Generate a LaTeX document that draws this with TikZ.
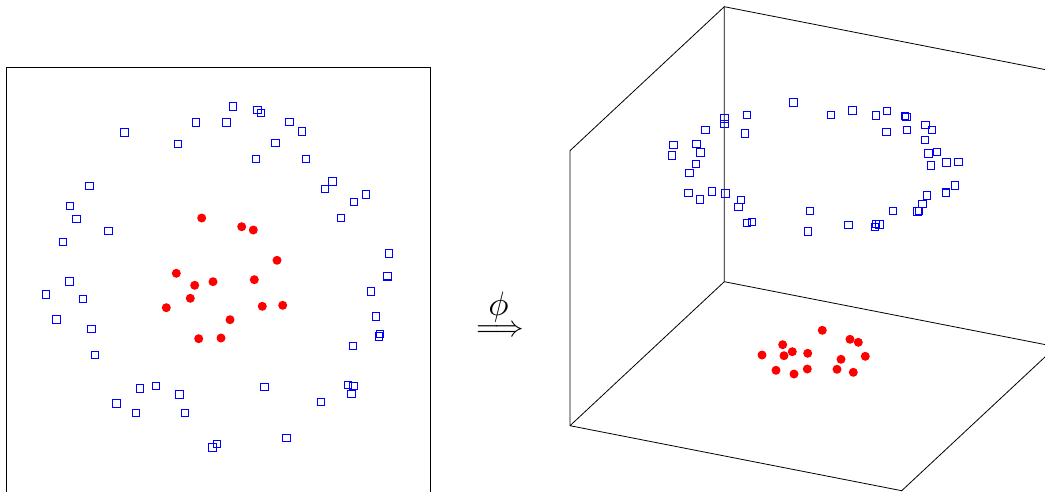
\documentclass[tikz,border=0pt]{standalone}
\begin{document}
\begin{tikzpicture}[x=1pt,y=-1pt,
  sq/.style={draw=blue,line width=0.75pt,minimum size=7.6pt,inner sep=0pt,outer sep=0pt},
  dot/.style={circle,fill=red,draw=none,minimum size=9pt,inner sep=0pt},
  frame/.style={draw=black,line width=0.8pt},
  sym/.style={inner sep=0pt,outer sep=0pt}]
\useasboundingbox (0,0) rectangle (1045,491);
\clip (0,0) rectangle (1045,491);
% left panel frame
\draw[frame] (6.3,495) -- (6.3,67.3) -- (430.7,67.3) -- (430.7,495);
% left squares
\foreach [count=\i] \x/\y in {233/106.3,257.3/109.7,260.7/112.7,195.7/122.3,226.3/122.3,289.3/122,301.7/131.3,124.3/132.3,178/143.7,275.3/143,256/158.7,305.7/159,332.3/181.3,324.7/189,365.7/194.3,354/201.7,340.7/217.7,89.3/185.7,70/205.7,76.3/218.7,108.3/230.7,63/241.7,389/253.3,387.3/275.7,387.6/276.2,69.3/281.3,46/294.3,83/298.7,370.7/291.3,376/316.3,56.3/319.3,91.3/329,380/333.7,378.7/336.3,95/355,352.7/346,140/388.3,156/386,179.3/394.3,264.3/387,348/385,353.3/386,351.3/393.7,116.3/403.3,136/413,184.7/413,321/402,286.3/438,216.7/443.7,212.3/447.3}
  \node[sq] (ls\i) at (\x,\y) {};
% left dots
\foreach [count=\i] \x/\y in {201.7/218,241.7/226.7,253.3/230,277/260.3,176.3/273.3,194.7/285.3,213/281.7,254.3/279.7,190.3/298.3,166.3/307.7,262.3/306.3,282.7/305.3,230/319.7,198.7/338.7,221/338}
  \node[dot] (ld\i) at (\x,\y) {};
% mapping arrow
\node[sym] (phi) at (498.5,306.5) {\scalebox{3.4}{$\phi$}};
\node[sym] (map) at (500,331.5) {\scalebox{2.95}{$\Longrightarrow$}};
% 3D box
\coordinate (At) at (724.3,6.7);
\coordinate (Ab) at (724.3,281.7);
\coordinate (Bt) at (570,150.7);
\coordinate (Bb) at (570,425.7);
\coordinate (Ct) at (1056,71.7);
\coordinate (Cb) at (1056,346.7);
\coordinate (Db) at (901.7,490.7);
\draw[frame] (Ab) -- (At) -- (Bt) -- (Bb);
\draw[frame] (At) -- (Ct) -- (Cb);
\draw[frame] (Bb) -- (Ab) -- (Cb) -- (Db) -- (Bb);
% right squares
\foreach [count=\i] \x/\y in {793.3/102.3,830.7/114.7,852.3/110.3,875.7/115.3,887/110.7,905/115.7,906.3/117,907/130,886.3/132,925.3/125,931.7/130,924.7/140,928.3/153.3,937/152,930.7/165.3,946.3/162.3,958.3/161.7,955/185.3,945.7/192.3,946/193,927/195.3,922.3/204,917.3/211.3,919/210.7,893/210.7,876/224,879.3/224.3,875/226.7,848.3/225,809.7/210.7,808/231.3,746.7/115,745/133.3,724.3/118.3,724.3/124,705.3/129.7,673.3/144.7,672/155.3,696.3/144,700.3/152.3,696/164,689.3/173,688.3/193,700/199.3,712/191.3,725.3/193.3,740.7/200,738.3/207,747/222.7,752/222}
  \node[sq] (rs\i) at (\x,\y) {};
% right dots
\foreach [count=\i] \x/\y in {822.3/330.3,782.7/344.7,792.3/351.7,784/355.7,762/355,807.7/353.3,850/339.3,858.3/342.3,865.3/356.3,841/359.3,776/370.3,794/374,807.3/369,837/369.3,853.3/372.3}
  \node[dot] (rd\i) at (\x,\y) {};
\end{tikzpicture}
\end{document}
